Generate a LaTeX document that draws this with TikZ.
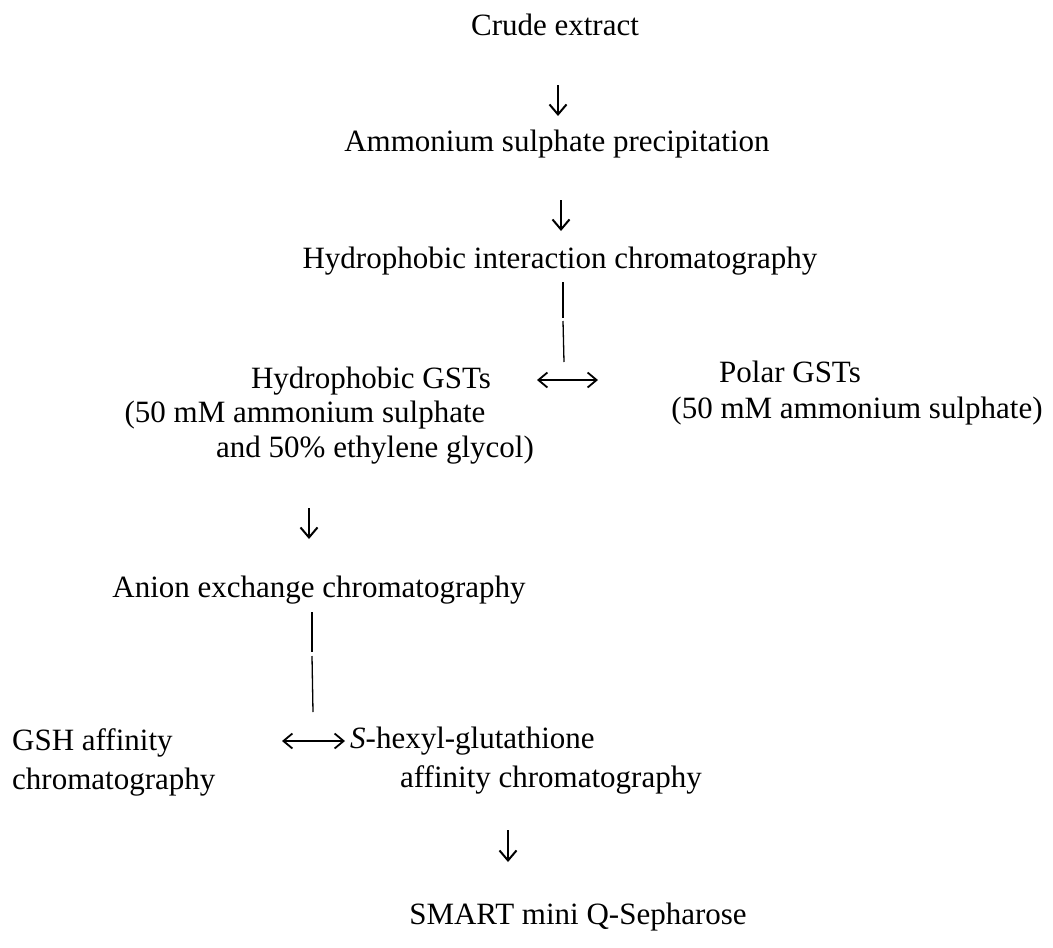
\documentclass[tikz,border=0pt]{standalone}
\usepackage{fontspec}
\setmainfont{Liberation Serif}
\usetikzlibrary{arrows.meta}
\begin{document}
\begin{tikzpicture}[x=1pt,y=-1pt,
  txt/.style={inner sep=0pt,font=\fontsize{31}{38}\selectfont,anchor=base},
  txtl/.style={txt,anchor=base west},
  flow/.style={line width=1.6pt,-{Straight Barb[length=10pt,width=17pt,line width=2pt]}},
  both/.style={line width=1.5pt,{Straight Barb[length=9pt,width=15pt,line width=1.8pt]}-{Straight Barb[length=9pt,width=15pt,line width=1.8pt]}},
  link/.style={line width=1.3pt}]
\useasboundingbox (0,0) rectangle (1053,948);

\node[txt] (crude) at (555,35) {Crude extract};
\node[txt] (amm) at (557,151) {Ammonium sulphate precipitation};
\node[txt] (hic) at (560,268) {Hydrophobic interaction chromatography};
\node[txt] (hgst) at (371,388) {Hydrophobic GSTs};
\node[txt] (hgst2) at (305,422) {(50 mM ammonium sulphate};
\node[txt] (hgst3) at (375,457) {and 50\% ethylene glycol)};
\node[txt] (pgst) at (790,382) {Polar GSTs};
\node[txt] (pgst2) at (857,418) {(50 mM ammonium sulphate)};
\node[txt] (aex) at (319,597) {Anion exchange chromatography};
\node[txtl] (gsh) at (12,750) {GSH affinity};
\node[txtl] (gsh2) at (12,789) {chromatography};
\node[txtl] (shex) at (350,748) {\textit{S}-hexyl-glutathione};
\node[txt] (shex2) at (551,787) {affinity chromatography};
\node[txt] (smart) at (578,924) {SMART mini Q-Sepharose};

% arrow end points
\coordinate (a1s) at (558,85);
\coordinate (a1e) at (558,116);
\coordinate (a2s) at (561,200);
\coordinate (a2e) at (561,231);
\coordinate (l1s) at (563,282);
\coordinate (l1m) at (563,318);
\coordinate (l1n) at (563,321);
\coordinate (l1e) at (564,362);
\coordinate (d1s) at (537,380);
\coordinate (d1e) at (598,380);
\coordinate (a3s) at (309,508);
\coordinate (a3e) at (309,539);
\coordinate (l2s) at (312,612);
\coordinate (l2m) at (312,652);
\coordinate (l2n) at (312,656);
\coordinate (l2e) at (313,712);
\coordinate (d2s) at (282,741);
\coordinate (d2e) at (345,741);
\coordinate (a4s) at (508,830);
\coordinate (a4e) at (508,862);

\draw[flow] (a1s) -- (a1e);
\draw[flow] (a2s) -- (a2e);
\draw[link] (l1s) -- (l1m);
\draw[link] (l1n) -- (l1e);
\draw[both] (d1s) -- (d1e);
\draw[flow] (a3s) -- (a3e);
\draw[link] (l2s) -- (l2m);
\draw[link] (l2n) -- (l2e);
\draw[both] (d2s) -- (d2e);
\draw[flow] (a4s) -- (a4e);
\end{tikzpicture}
\end{document}
